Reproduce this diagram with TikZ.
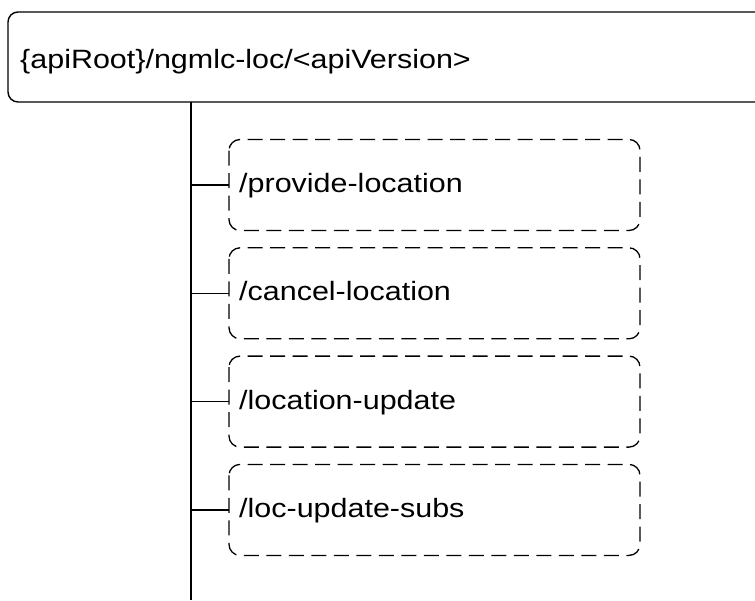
\documentclass[tikz,border=0pt]{standalone}
\usepackage{fontspec}
\setmainfont{Liberation Sans}
\newfontfamily\lblfont[FakeStretch=1.15]{Liberation Sans}
\begin{document}
\begin{tikzpicture}[x=1pt,y=-1pt,
  rootbox/.style={draw,line width=1.4pt,rounded corners=10pt},
  resbox/.style={draw,line width=1.3pt,rounded corners=11pt,dash pattern=on 15pt off 7.5pt},
  conn/.style={line width=1.3pt},
  lbl/.style={anchor=base west,inner sep=0pt,font=\lblfont\fontsize{26.5}{30}\selectfont}]
\useasboundingbox (0,0) rectangle (755,600);
% root box (extends beyond right edge)
\draw[rootbox] (8,12) rectangle (780,102);
\node[lbl] (root) at (20,68.3) {\{apiRoot\}/ngmlc-loc/<apiVersion>};
\coordinate (top) at (191,102);
\coordinate (bottom) at (191,600);
\draw[conn] (top) -- (bottom);
\foreach \i/\t/\n in {0/provide-location/a,1/cancel-location/b,2/location-update/c,3/loc-update-subs/d}{
  \pgfmathsetmacro{\ytop}{139.5+108.3*\i}
  \pgfmathsetmacro{\ybot}{\ytop+91}
  \pgfmathsetmacro{\ymid}{\ytop+45.5}
  \pgfmathsetmacro{\ybase}{\ytop+53}
  \draw[resbox] (229,\ytop) rectangle (640,\ybot);
  \coordinate (\n L) at (229,\ymid);
  \coordinate (\n T) at (191,\ymid);
  \node[lbl] (\n) at (239,\ybase) {/\t};
  \draw[conn] (\n T) -- (\n L);
}
\end{tikzpicture}
\end{document}
